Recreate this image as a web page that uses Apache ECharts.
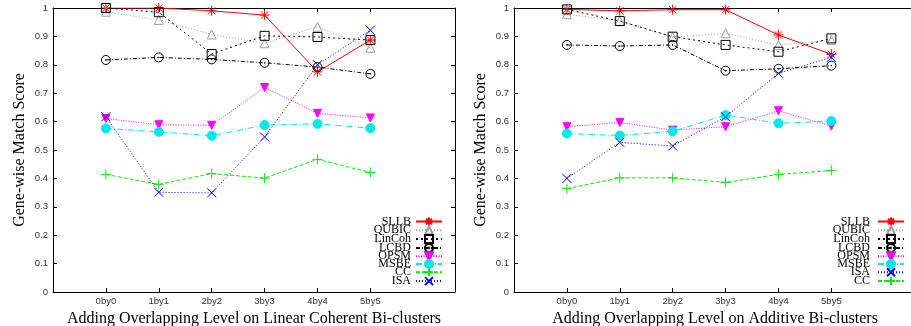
<!DOCTYPE html>
<html><head><meta charset="utf-8">
<script src="https://cdn.jsdelivr.net/npm/echarts@6/dist/echarts.min.js"></script>
<style>html,body{margin:0;padding:0;background:#fff}#c{width:911px;height:326px}</style>
</head><body><div id="c"></div>
<script>
const categories = ['0by0','1by1','2by2','3by3','4by4','5by5'];
const yTicks = [0,0.1,0.2,0.3,0.4,0.5,0.6,0.7,0.8,0.9,1];

// Left panel: Linear Coherent Bi-clusters
const L_SLLB   = [1.0, 1.0, 0.99, 0.975, 0.775, 0.887];
const L_QUBIC  = [0.987, 0.958, 0.907, 0.876, 0.934, 0.86];
const L_LinCoh = [1.0, 0.985, 0.838, 0.902, 0.898, 0.887];
const L_LCBD   = [0.817, 0.826, 0.819, 0.807, 0.792, 0.768];
const L_OPSM   = [0.611, 0.589, 0.587, 0.72, 0.629, 0.613];
const L_MSBE   = [0.576, 0.564, 0.55, 0.588, 0.592, 0.577];
const L_CC     = [0.414, 0.379, 0.417, 0.401, 0.467, 0.421];
const L_ISA    = [0.617, 0.351, 0.349, 0.546, 0.8, 0.922];

// Right panel: Additive Bi-clusters
const R_SLLB   = [0.995, 0.99, 0.994, 0.994, 0.905, 0.837];
const R_QUBIC  = [0.978, 0.955, 0.897, 0.911, 0.87, 0.887];
const R_LinCoh = [0.995, 0.954, 0.899, 0.87, 0.846, 0.893];
const R_LCBD   = [0.87, 0.866, 0.87, 0.779, 0.786, 0.797];
const R_OPSM   = [0.582, 0.597, 0.57, 0.582, 0.638, 0.584];
const R_MSBE   = [0.558, 0.551, 0.566, 0.623, 0.594, 0.602];
const R_ISA    = [0.4, 0.527, 0.514, 0.617, 0.77, 0.826];
const R_CC     = [0.364, 0.402, 0.402, 0.386, 0.414, 0.428];

const xNameL = 'Adding Overlapping Level on Linear Coherent Bi-clusters';
const xNameR = 'Adding Overlapping Level on Additive Bi-clusters';
const yName = 'Gene-wise Match Score';

const SERIF = '"Liberation Serif","DejaVu Serif",serif';
const SANS = '"Liberation Sans","DejaVu Sans",sans-serif';

const styles = {
  SLLB:   {color:'#ff0000', type:'solid', symbol:'path://M0,-5L0,5M-5,0L5,0M-3.6,-3.6L3.6,3.6M-3.6,3.6L3.6,-3.6', size:10, fill:'none'},
  QUBIC:  {color:'#a0a0a0', type:[1,2], symbol:'triangle', size:9, fill:'none'},
  LinCoh: {color:'#000000', type:[2,3], symbol:'rect', size:9, fill:'none'},
  LCBD:   {color:'#000000', type:[4,2,1,2], symbol:'path://M-5,0A5,5 0 1,0 5,0A5,5 0 1,0 -5,0ZM-0.4,0A0.4,0.4 0 1,0 0.4,0A0.4,0.4 0 1,0 -0.4,0Z', size:9, fill:'none'},
  OPSM:   {color:'#ff00ff', type:[1,1.5], symbol:'path://M-5,-4L5,-4L0,4Z', size:8, fill:'#ff00ff'},
  MSBE:   {color:'#00e8e8', type:[6,2,1,2], symbol:'circle', size:9, fill:'#00e8e8'},
  CC:     {color:'#00ee00', type:[4,2], symbol:'path://M0,-5L0,5M-5,0L5,0', size:10, fill:'none'},
  ISA:    {color:'#0000ff', type:[1,2], symbol:'path://M-5,-5L5,5M-5,5L5,-5', size:9, fill:'none'}
};

function mk(name, vals, xi, yi) {
  const s = styles[name];
  return {
    name: name, type: 'line', xAxisIndex: xi, yAxisIndex: yi,
    data: vals.map((v, i) => [i, v]),
    symbol: s.symbol, symbolSize: s.size, showAllSymbol: true,
    lineStyle: {color: s.color, type: s.type, width: 1},
    itemStyle: {color: s.fill, borderColor: s.color, borderWidth: 1},
    emphasis: {disabled: true}, animation: false
  };
}

function xAxes(gi, name) {
  const tickVals = categories.map((c, i) => i);
  return [
    {gridIndex: gi, type: 'value', min: -1, max: 6.6, position: 'bottom',
     name: name, nameLocation: 'middle', nameGap: 15,
     nameTextStyle: {fontFamily: SERIF, fontSize: 16, color: '#000'},
     axisLine: {show: true, onZero: false, lineStyle: {color: '#000', width: 1}},
     axisTick: {show: true, inside: true, length: 4, customValues: tickVals, lineStyle: {color: '#000'}},
     axisLabel: {customValues: tickVals, formatter: v => categories[v] || '', fontFamily: SANS, fontSize: 9.5, color: '#333', margin: 4},
     splitLine: {show: false}},
    {gridIndex: gi, type: 'value', min: -1, max: 6.6, position: 'top',
     axisLine: {show: true, onZero: false, lineStyle: {color: '#000', width: 1}},
     axisTick: {show: true, inside: true, length: 4, customValues: tickVals, lineStyle: {color: '#000'}},
     axisLabel: {show: false}, splitLine: {show: false}}
  ];
}
function yAxes(gi, nameGap) {
  return [
    {gridIndex: gi, type: 'value', min: 0, max: 1, interval: 0.1, position: 'left',
     name: yName, nameLocation: 'middle', nameGap: nameGap, nameRotate: 90,
     nameTextStyle: {fontFamily: SERIF, fontSize: 16, color: '#000'},
     axisLine: {show: true, onZero: false, lineStyle: {color: '#000', width: 1}},
     axisTick: {show: true, inside: true, length: 4, lineStyle: {color: '#000'}},
     axisLabel: {customValues: yTicks, formatter: v => String(+v.toFixed(1)), fontFamily: SANS, fontSize: 9.5, color: '#333', margin: 5},
     splitLine: {show: false}},
    {gridIndex: gi, type: 'value', min: 0, max: 1, interval: 0.1, position: 'right',
     axisLine: {show: true, onZero: false, lineStyle: {color: '#000', width: 1}},
     axisTick: {show: true, inside: true, length: 4, lineStyle: {color: '#000'}},
     axisLabel: {show: false}, splitLine: {show: false}}
  ];
}

const orderL = ['SLLB','QUBIC','LinCoh','LCBD','OPSM','MSBE','CC','ISA'];
const orderR = ['SLLB','QUBIC','LinCoh','LCBD','OPSM','MSBE','ISA','CC'];
const dataL = {SLLB:L_SLLB, QUBIC:L_QUBIC, LinCoh:L_LinCoh, LCBD:L_LCBD, OPSM:L_OPSM, MSBE:L_MSBE, CC:L_CC, ISA:L_ISA};
const dataR = {SLLB:R_SLLB, QUBIC:R_QUBIC, LinCoh:R_LinCoh, LCBD:R_LCBD, OPSM:R_OPSM, MSBE:R_MSBE, ISA:R_ISA, CC:R_CC};

const seriesL = orderL.map(n => mk(n, dataL[n], 0, 0));
const seriesR = orderR.map(n => Object.assign(mk(n, dataR[n], 2, 2), {name: n + ' '}));

function legend(names, right) {
  return {
    orient: 'vertical', right: right, top: 215, align: 'right',
    itemWidth: 26, itemHeight: 10, itemGap: -4.2, padding: 0,
    textStyle: {fontFamily: SERIF, fontSize: 12, color: '#000', lineHeight: 10},
    data: names, selectedMode: false
  };
}

const chart = echarts.init(document.getElementById('c'), null, {renderer: 'canvas'});
chart.setOption({
  animation: false,
  backgroundColor: '#fff',
  grid: [
    {left: 53, right: 456, top: 8, bottom: 34, containLabel: false, outerBoundsMode: 'none'},
    {left: 514, right: -5, top: 8, bottom: 34, containLabel: false, outerBoundsMode: 'none'}
  ],
  xAxis: xAxes(0, xNameL).concat(xAxes(1, xNameR)),
  yAxis: yAxes(0, 25).concat(yAxes(1, 25)),
  legend: [legend(orderL, 468), legend(orderR.map(n => n + ' '), 6)],
  series: seriesL.concat(seriesR)
});
</script></body></html>
